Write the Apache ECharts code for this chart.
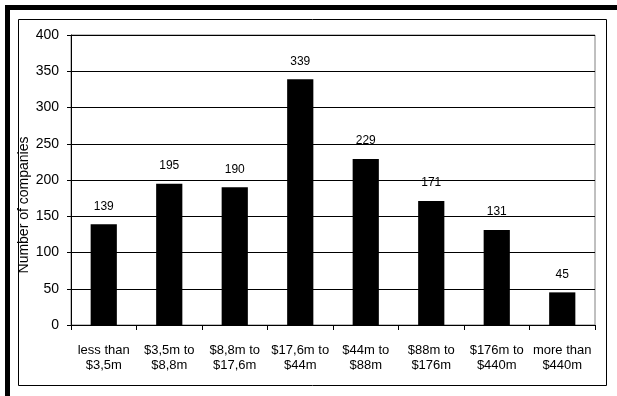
<!DOCTYPE html>
<html>
<head>
<meta charset="utf-8">
<script src="https://cdn.jsdelivr.net/npm/echarts@6/dist/echarts.min.js"></script>
<style>
html,body{margin:0;padding:0;background:#fff;}
#chart{width:617px;height:396px;}
</style>
</head>
<body>
<div id="chart"></div>
<script>
var categories = ["less than\n$3,5m", "$3,5m to\n$8,8m", "$8,8m to\n$17,6m", "$17,6m to\n$44m", "$44m to\n$88m", "$88m to\n$176m", "$176m to\n$440m", "more than\n$440m"];
var companies = [139, 195, 190, 339, 229, 171, 131, 45];
var yTicks = [0, 50, 100, 150, 200, 250, 300, 350, 400];
var titleText = "Split of firms by total property, plant and equipment (PPE)";
var yAxisName = "Number of companies";

var FONT = "'Liberation Sans', Arial, sans-serif";
var chart = echarts.init(document.getElementById('chart'), null, {renderer: 'canvas'});
chart.setOption({
  animation: false,
  backgroundColor: '#ffffff',
  grid: {left: 71, top: 35, right: 22, bottom: 71, show: true, borderColor: '#808080', borderWidth: 1, backgroundColor: 'transparent'},
  xAxis: {
    type: 'category',
    data: categories,
    axisLine: {lineStyle: {color: '#000', width: 1}},
    axisTick: {show: true, length: 5, lineStyle: {color: '#000'}, alignWithLabel: false},
    axisLabel: {color: '#000', fontFamily: FONT, fontSize: 13, lineHeight: 15, margin: 18, interval: 0}
  },
  yAxis: {
    type: 'value',
    min: yTicks[0],
    max: yTicks[yTicks.length - 1],
    interval: yTicks[1] - yTicks[0],
    axisLine: {show: true, lineStyle: {color: '#000', width: 1}},
    axisTick: {show: true, length: 4, lineStyle: {color: '#000'}},
    splitLine: {show: true, lineStyle: {color: '#000', width: 1}},
    axisLabel: {color: '#000', fontFamily: FONT, fontSize: 14, margin: 12}
  },
  series: [{
    type: 'bar',
    data: companies,
    barWidth: '40%',
    itemStyle: {color: '#000'},
    label: {show: true, position: 'top', distance: 12, color: '#000', fontFamily: FONT, fontSize: 12}
  }],
  graphic: [
    {type: 'text', left: 30, top: -16, z: 1, style: {text: titleText, fontFamily: FONT, fontSize: 17, fill: '#000'}},
    {type: 'rect', shape: {x: 5, y: 5, width: 612, height: 5}, style: {fill: '#000'}, z: 10},
    {type: 'rect', shape: {x: 5, y: 5, width: 5, height: 391}, style: {fill: '#000'}, z: 10},
    {type: 'rect', shape: {x: 18.5, y: 19.5, width: 588, height: 366}, style: {fill: 'none', stroke: '#000', lineWidth: 1}, z: 10},
    {type: 'text', x: 24, y: 205, rotation: Math.PI / 2, z: 10,
     style: {text: yAxisName, fontFamily: FONT, fontSize: 14, fill: '#000', align: 'center', verticalAlign: 'middle'}}
  ]
});
</script>
</body>
</html>
